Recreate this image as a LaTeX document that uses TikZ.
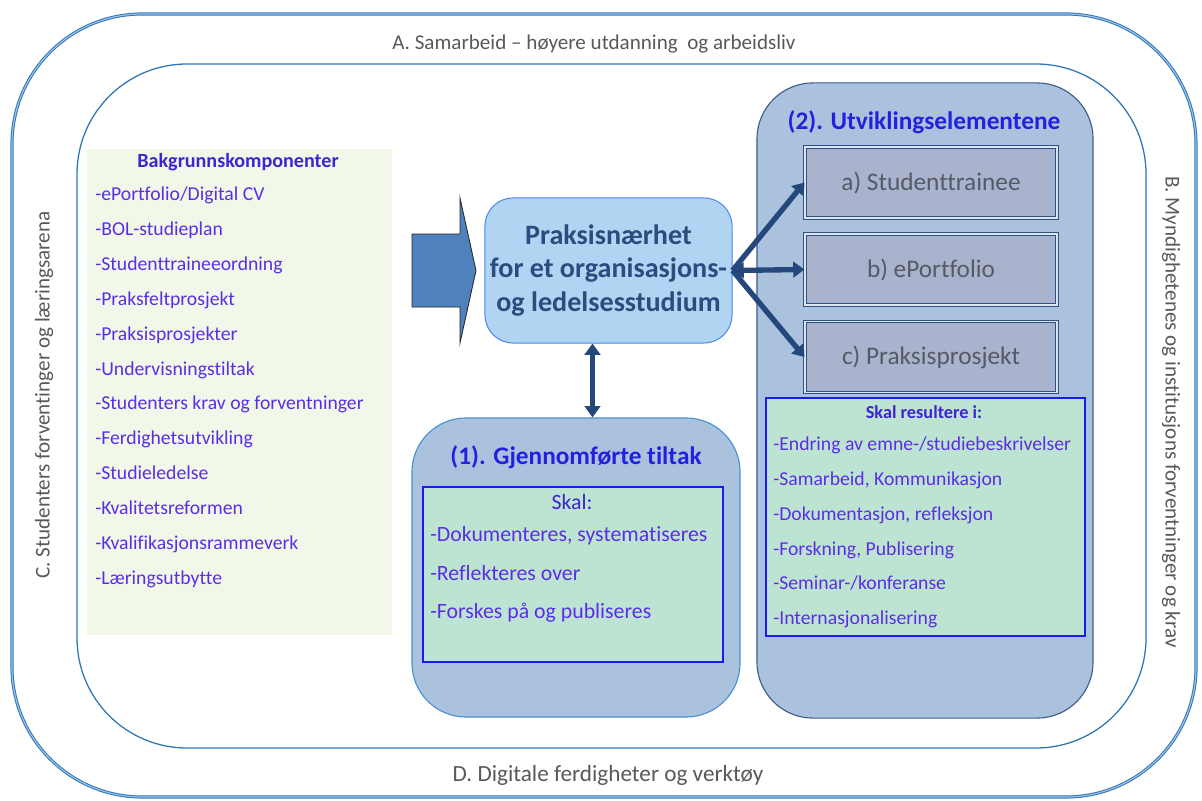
\documentclass[tikz,border=0pt]{standalone}
\usepackage{fontspec}
\setmainfont{Carlito}[Ligatures=NoCommon]
\usetikzlibrary{arrows.meta}

\definecolor{frameblue}{HTML}{2E75B6}
\definecolor{framelight}{HTML}{9DC3E6}
\definecolor{labelgray}{HTML}{595959}
\definecolor{bgfill}{HTML}{F1F8EA}
\definecolor{listviolet}{HTML}{5B2EE6}
\definecolor{listhead}{HTML}{3F24D0}
\definecolor{headblue}{HTML}{2222DD}
\definecolor{corefill}{HTML}{B1D4F2}
\definecolor{coreline}{HTML}{4A86E8}
\definecolor{coretext}{HTML}{2B4C7E}
\definecolor{panelfill}{HTML}{ABC2DF}
\definecolor{panelone}{HTML}{4A90D0}
\definecolor{paneltwo}{HTML}{3E5C8A}
\definecolor{subfill}{HTML}{A9B3CD}
\definecolor{subline}{HTML}{2F5083}
\definecolor{subtext}{HTML}{555A66}
\definecolor{mintfill}{HTML}{BDE4D3}
\definecolor{mintline}{HTML}{1A1AF0}
\definecolor{arrowblue}{HTML}{24487C}
\definecolor{arrowfill}{HTML}{4F81BD}

\begin{document}
\begin{tikzpicture}[x=0.025cm,y=-0.025cm,
    sidetext/.style={text=labelgray,font=\fontsize{15}{17}\selectfont},
    panel/.style={fill=panelfill,line width=0.8pt,rounded corners=1.4cm},
    subbox/.style={draw=subline,double=panelfill!40!white,double distance=1.2pt,line width=0.7pt,
        fill=subfill,minimum width=6.3cm,minimum height=1.775cm,text=subtext,
        font=\fontsize{18}{20}\selectfont},
    mintbox/.style={draw=mintline,fill=mintfill,line width=0.8pt},
    headline/.style={text=headblue,font=\bfseries\fontsize{18}{20}\selectfont},
    itemhead/.style={text=listhead,font=\fontsize{13}{15}\selectfont},
    listitem/.style={anchor=west,inner sep=0pt,text height=1.6ex,text depth=.5ex,
        text=listviolet,font=\fontsize{14}{16}\selectfont},
    link/.style={draw=arrowblue,line width=3.8pt,-{Triangle[length=8pt,width=11pt]}},
    twoway/.style={link,{Triangle[length=8pt,width=11pt]}-{Triangle[length=8pt,width=11pt]}}
]
\useasboundingbox (0,0) rectangle (1202,801);

% outer and inner frame
\draw[draw=frameblue,double=framelight,double distance=0.8pt,line width=0.7pt,rounded corners=3.25cm]
    (12,14) rectangle (1196,797);
\draw[frameblue,line width=0.9pt,rounded corners=2.75cm] (77,64) rectangle (1146,748);

\node[sidetext] (labA) at (594,44) {A. Samarbeid -- høyere utdanning \ og arbeidsliv};
\node[sidetext,font=\fontsize{16.5}{18}\selectfont] (labD) at (608,775) {D. Digitale ferdigheter og verktøy};
\node[sidetext,rotate=90] (labC) at (44,395) {C. Studenters forventinger og læringsarena};
\node[sidetext,rotate=-90] (labB) at (1171,412) {B. Myndighetenes og institusjons forventninger og krav};

% background components
\node[fill=bgfill,minimum width=7.625cm,minimum height=12.15cm] (bakgrunn) at (239.5,392) {};
\node[itemhead,font=\bfseries\fontsize{14.3}{16}\selectfont] (bgtitle) at (238,162) {Bakgrunnskomponenter};
\foreach \t [count=\i] in {ePortfolio/Digital CV,BOL-studieplan,Studenttraineeordning,
    Praksfeltprosjekt,Praksisprosjekter,Undervisningstiltak,Studenters krav og forventninger,
    Ferdighetsutvikling,Studieledelse,Kvalitetsreformen,Kvalifikasjonsrammeverk,Læringsutbytte}
    \node[listitem] (bg\i) at (95,{162+34.9*\i}) {-\t};

% arrow into the centre
\draw[draw=black!85,fill=arrowfill,line width=0.6pt]
    (412,234) -- (460,234) -- (460,198) -- (476,270.5) -- (460,343) -- (460,307) -- (412,307) -- cycle;

\node[draw=coreline,fill=corefill,line width=0.7pt,rounded corners=0.7cm,
    minimum width=6.175cm,minimum height=3.625cm,align=center,text=coretext,
    font=\bfseries\fontsize{20}{24}\selectfont] (core) at (608.5,270.5)
    {Praksisnærhet\\for et organisasjons-\\og ledelsesstudium};

% (2) development elements
\node[panel,draw=paneltwo,minimum width=8.4cm,minimum height=15.875cm] (box2) at (925,400.5) {};
\node[headline] (title2) at (924,122) {(2). Utviklingselementene};
\node[subbox] (suba) at (931,182.5) {a) Studenttrainee};
\node[subbox] (subb) at (931,269.5) {b) ePortfolio};
\node[subbox] (subc) at (931,357) {c) Praksisprosjekt};
\node[mintbox,minimum width=7.975cm,minimum height=5.95cm] (mint2) at (925.5,517) {};
\node[itemhead,font=\bfseries\fontsize{13}{15}\selectfont] (mint2title) at (924,412) {Skal resultere i:};
\foreach \t [count=\i] in {Endring av emne-/studiebeskrivelser,{Samarbeid, Kommunikasjon},
    {Dokumentasjon, refleksjon},{Forskning, Publisering},Seminar-/konferanse,Internasjonalisering}
    \node[listitem] (res\i) at (773,{447+34.8*(\i-1)}) {-\t};

% (1) completed measures
\node[panel,draw=panelone,rounded corners=1.35cm,minimum width=8.2cm,minimum height=7.475cm] (box1) at (576,567.5) {};
\node[headline] (title1) at (576,457) {(1). Gjennomførte tiltak};
\node[mintbox,minimum width=7.5cm,minimum height=4.375cm] (mint1) at (573,574.5) {};
\node[itemhead,font=\fontsize{15.5}{17}\selectfont] (mint1title) at (572,502) {Skal:};
\foreach \t [count=\i] in {{Dokumenteres, systematiseres},Reflekteres over,Forskes på og publiseres}
    \node[listitem,font=\fontsize{15.5}{17}\selectfont] (tiltak\i) at (430,{538+38.5*(\i-1)}) {-\t};

% connectors
\draw[link] (core.east) -- (suba.west);
\draw[twoway] (core.east) -- (subb.west);
\draw[link] (core.east) -- (subc.west);
\draw[twoway] ([xshift=-0.4cm]core.south) -- ([xshift=-0.4cm]core.south |- box1.north);

\end{tikzpicture}
\end{document}
